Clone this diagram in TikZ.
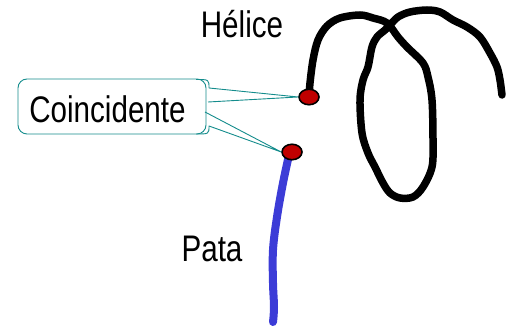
\documentclass[tikz,border=0pt]{standalone}
\usepackage{fontspec}
\setmainfont{Liberation Sans}
\usetikzlibrary{shapes.geometric}
\definecolor{teal1}{RGB}{20,140,140}
\definecolor{dotred}{RGB}{192,0,0}
\definecolor{pblue}{RGB}{60,60,215}
\tikzset{
  lbl/.style={anchor=base, inner sep=0pt, font=\fontsize{37}{42}\selectfont},
  dotnode/.style={ellipse, draw=black, line width=1.6pt, fill=dotred, minimum width=20pt, minimum height=15.5pt, inner sep=0pt},
  callout/.style={draw=teal1, line width=0.9pt, line join=round},
  helix/.style={draw=black, line width=7.5pt, line cap=round, line join=round},
  leg/.style={draw=pblue, line width=8pt, line cap=round, line join=round}
}
\begin{document}
\begin{tikzpicture}[x=1pt,y=-1pt]
\useasboundingbox (0,0) rectangle (506,328);
% helix
\draw[helix] plot[smooth, tension=0.55] coordinates {
 (309,97) (310,83) (313,60) (318,40) (327,26) (340,18) (360,15) (373,18) (387,23)
 (398,37) (407,47) (423,63) (428,77) (432,100) (433,140) (432,167) (423,187) (413,197)
 (400,198) (390,193) (383,183) (375,167) (368,153) (362,133) (360,100) (363,80) (368,67)
 (372,47) (377,37) (385,30) (390,25) (398,17) (410,12) (427,10) (440,12) (453,20)
 (467,27) (480,37) (490,53) (497,67) (500,80) (502,95)};
% leg
\draw[leg] plot[smooth, tension=0.6] coordinates {
 (289,155) (283,183) (277,217) (273,250) (273,283) (274,307) (273,322)};
% dots
\node[dotnode] (d1) at (309,97) {};
\node[dotnode] (d2) at (292,152) {};
% callout box
\node[draw=teal1, line width=0.9pt, rounded corners=9pt, minimum width=188pt, minimum height=55pt, inner sep=0pt] (box) at (112,106.5) {};
\node[lbl] (coin) at (107.5,123) {\scalebox{0.8}[1]{Coincidente}};
\coordinate (a1) at (209,88);
\coordinate (a2) at (208,102);
\coordinate (b1) at (205,112);
\coordinate (b2) at (209,126);
\draw[callout] (196,79.5) .. controls (209,79.5) .. (a1) -- (d1.west) -- (a2);
\draw[callout] (b1) -- (d2.west) -- (b2) .. controls (209,134) .. (196,134);
% labels
\node[lbl] (helice) at (242,38) {\scalebox{0.8}[1]{Hélice}};
\node[lbl] (pata) at (212,262) {\scalebox{0.8}[1]{Pata}};
\end{tikzpicture}
\end{document}
